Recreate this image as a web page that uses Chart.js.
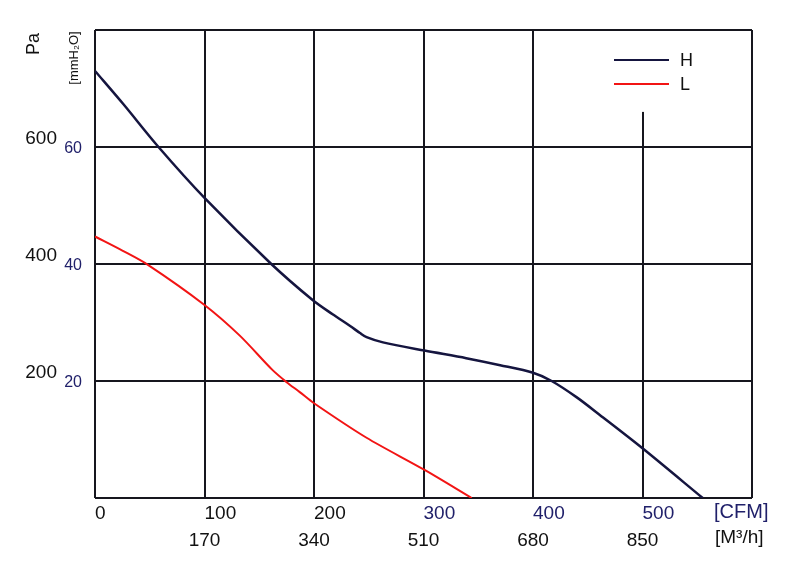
<!DOCTYPE html>
<html>
<head>
<meta charset="utf-8">
<script src="https://cdn.jsdelivr.net/npm/chart.js@4.4.0/dist/chart.umd.min.js"></script>
<style>
  html, body { margin: 0; padding: 0; background: #fff; }
</style>
</head>
<body>
<canvas id="fanChart" width="800" height="568"></canvas>
<script>
// H curve: airflow [CFM] vs static pressure [Pa]
const hCfm = [0, 26, 58, 100, 161, 199, 217, 233, 242, 248, 263, 301, 339, 370, 400, 417, 440, 461, 500, 555];
const hPa  = [730, 673, 600, 513, 400, 338, 314, 294, 282, 275, 266, 252, 239, 227, 214, 200, 172, 142, 85, 0];

// L curve
const lCfm = [0, 25, 48, 100, 132, 162, 175, 187, 200, 248, 301, 344];
const lPa  = [447, 423, 399, 330, 278, 219, 198, 181, 162, 103, 48, 0];

// tick labels (index follows tick order from the axis minimum)
const cfmLabels = ['0', '100', '200', '300', '400', '500', ''];
const m3hLabels = ['', '170', '340', '510', '680', '850', ''];
const paLabels  = ['', '200', '400', '600', ''];
const mmLabels  = ['', '20', '40', '60', ''];

const FONT = "'Liberation Sans', Arial, sans-serif";
const gridColor = '#16161e';
const navy = '#20206a';

const toPoints = (xs, ys) => xs.map((x, i) => ({ x: x, y: ys[i] }));

// the 500 CFM grid line stops below the legend
const gridGap = {
    id: 'gridGap',
    beforeDatasetsDraw(chart) {
        const { ctx, chartArea, scales } = chart;
        const x = scales.x.getPixelForValue(500);
        const yEnd = scales.y.getPixelForValue(660);
        ctx.save();
        ctx.fillStyle = '#fff';
        ctx.fillRect(x - 3, chartArea.top + 1, 6, yEnd - chartArea.top - 1);
        ctx.restore();
    }
};

// legend, axis titles and unit labels
const extras = {
    id: 'extras',
    afterDraw(chart) {
        const { ctx } = chart;
        ctx.save();
        ctx.textBaseline = 'middle';
        chart.data.datasets.forEach((ds, i) => {
            const y = 60 + i * 24;
            ctx.strokeStyle = ds.borderColor;
            ctx.lineWidth = 2;
            ctx.beginPath();
            ctx.moveTo(614, y);
            ctx.lineTo(669, y);
            ctx.stroke();
            ctx.fillStyle = '#111';
            ctx.font = '18px ' + FONT;
            ctx.textAlign = 'left';
            ctx.fillText(ds.label, 680, y + 1);
        });

        ctx.textAlign = 'left';
        ctx.font = '20px ' + FONT;
        ctx.fillStyle = navy;
        ctx.fillText('[CFM]', 714, 512);
        ctx.fillStyle = '#111';
        ctx.font = '19px ' + FONT;
        ctx.fillText('[M³/h]', 715, 538);

        ctx.textAlign = 'center';
        ctx.save();
        ctx.translate(34, 44);
        ctx.rotate(-Math.PI / 2);
        ctx.font = '18px ' + FONT;
        ctx.fillStyle = '#111';
        ctx.fillText('Pa', 0, 0);
        ctx.restore();
        ctx.save();
        ctx.translate(74, 58);
        ctx.rotate(-Math.PI / 2);
        ctx.font = '13px ' + FONT;
        ctx.fillStyle = '#111';
        ctx.fillText('[mmH₂O]', 0, 0);
        ctx.restore();
        ctx.restore();
    }
};

const ctx = document.getElementById('fanChart').getContext('2d');
new Chart(ctx, {
    type: 'line',
    data: {
        datasets: [{
            label: 'H',
            data: toPoints(hCfm, hPa),
            borderColor: '#15153f',
            borderWidth: 2.5,
            pointRadius: 0,
            tension: 0.3,
            xAxisID: 'x',
            yAxisID: 'y'
        }, {
            label: 'L',
            data: toPoints(lCfm, lPa),
            borderColor: '#f21414',
            borderWidth: 2,
            pointRadius: 0,
            tension: 0.3,
            xAxisID: 'x',
            yAxisID: 'y'
        }]
    },
    options: {
        responsive: false,
        animation: false,
        layout: { padding: { left: 0, right: 48, top: 30, bottom: 16 } },
        plugins: {
            legend: { display: false },
            tooltip: { enabled: false }
        },
        scales: {
            x: {
                type: 'linear',
                position: 'bottom',
                weight: 0,
                min: 0,
                max: 600,
                grid: { color: gridColor, lineWidth: 2, drawTicks: false },
                border: { display: false },
                ticks: {
                    stepSize: 100,
                    align: 'start',
                    padding: 4,
                    maxRotation: 0,
                    autoSkip: false,
                    font: { family: FONT, size: 19 },
                    color: c => (c.index < 3 ? '#111' : navy),
                    callback: (v, i) => cfmLabels[i] ?? ''
                },
                afterFit: s => { s.height = 26; }
            },
            x2: {
                type: 'linear',
                position: 'bottom',
                weight: 1,
                min: 0,
                max: 600,
                grid: { display: false, drawTicks: false },
                border: { display: false },
                ticks: {
                    stepSize: 100,
                    padding: 5,
                    maxRotation: 0,
                    autoSkip: false,
                    font: { family: FONT, size: 19 },
                    color: '#111',
                    callback: (v, i) => m3hLabels[i] ?? ''
                },
                afterFit: s => { s.height = 28; }
            },
            y: {
                type: 'linear',
                position: 'left',
                weight: 2,
                min: 0,
                max: 800,
                grid: { color: gridColor, lineWidth: 2, drawTicks: false },
                border: { display: false },
                ticks: {
                    stepSize: 200,
                    padding: 5,
                    labelOffset: -8,
                    font: { family: FONT, size: 19 },
                    color: '#111',
                    callback: (v, i) => paLabels[i] ?? ''
                },
                afterFit: s => { s.width = 62; }
            },
            y2: {
                type: 'linear',
                position: 'left',
                weight: 1,
                min: 0,
                max: 80,
                grid: { display: false, drawTicks: false },
                border: { display: false },
                ticks: {
                    stepSize: 20,
                    padding: 13,
                    labelOffset: 2,
                    font: { family: FONT, size: 16 },
                    color: navy,
                    callback: (v, i) => mmLabels[i] ?? ''
                },
                afterFit: s => { s.width = 33; }
            }
        }
    },
    plugins: [gridGap, extras]
});
</script>
</body>
</html>
